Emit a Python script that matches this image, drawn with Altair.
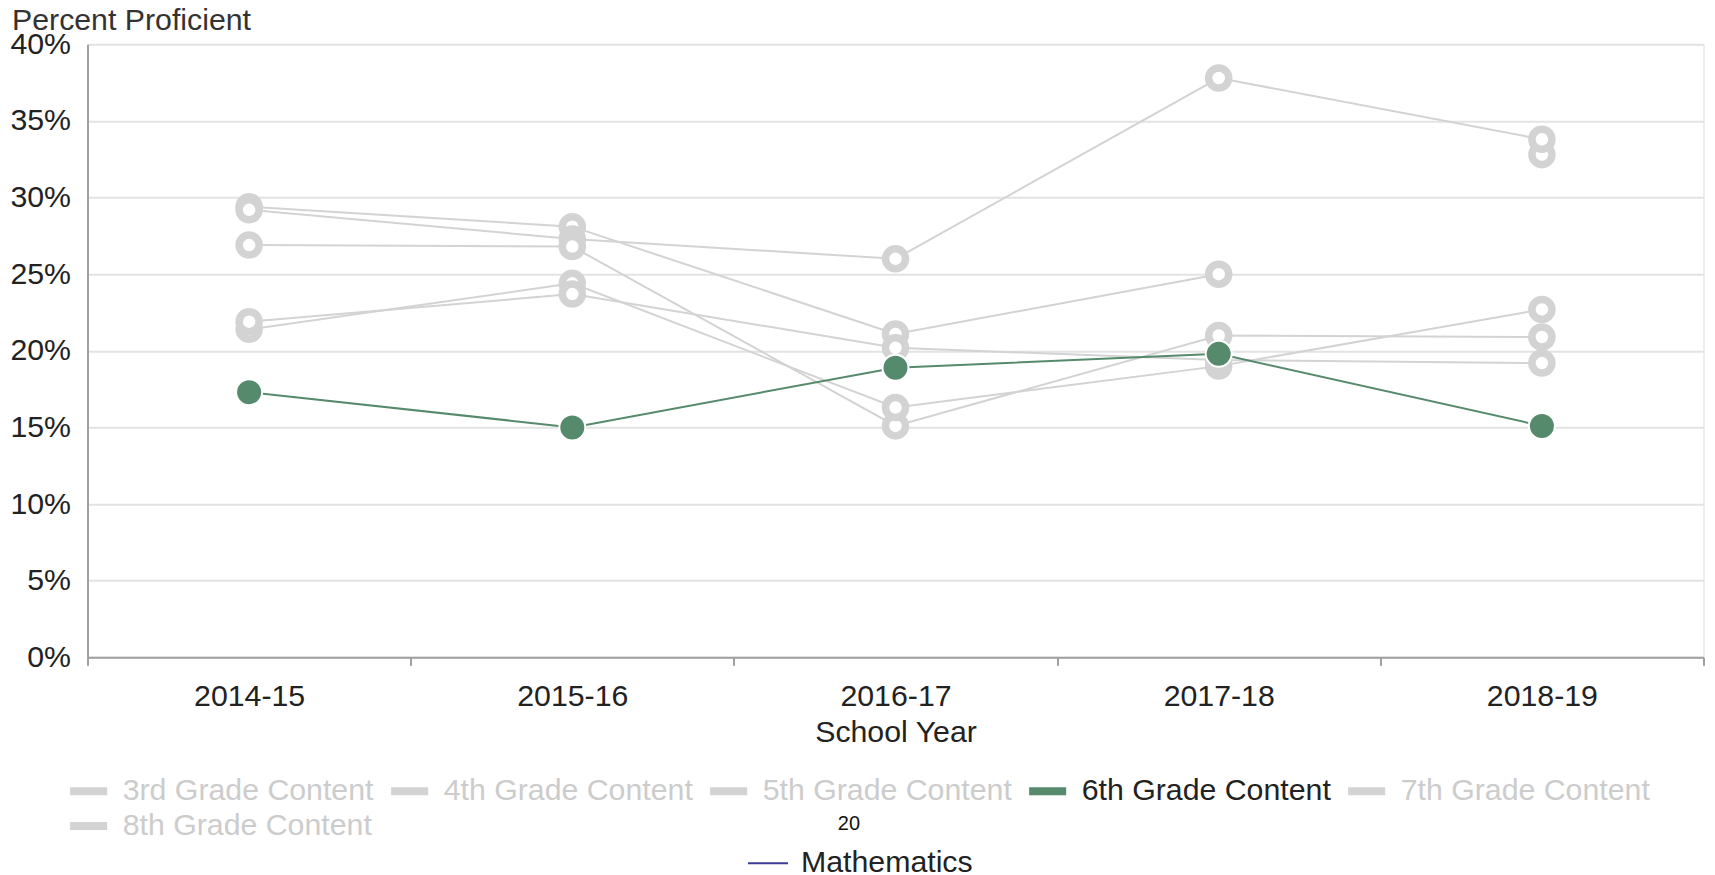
import altair as alt
import pandas as pd

# ---------------- data ----------------
years = ["2014-15", "2015-16", "2016-17", "2017-18", "2018-19"]
grades = ["3rd Grade Content", "4th Grade Content", "5th Grade Content",
          "6th Grade Content", "7th Grade Content", "8th Grade Content"]
grade3 = [29.4, 28.1, 21.1, 25.0, 32.8]
grade4 = [29.2, 27.3, 26.0, 37.8, 33.8]
grade5 = [26.9, 26.8, 15.1, 21.0, 20.9]
grade6 = [17.3, 15.0, 18.9, 19.8, 15.1]
grade7 = [21.4, 24.4, 16.3, 19.0, 22.7]
grade8 = [21.9, 23.7, 20.2, 19.4, 19.2]
series_values = [grade3, grade4, grade5, grade6, grade7, grade8]
highlight = "6th Grade Content"
# a new path starts at this year (segment not drawn in the original)
path_breaks = {"3rd Grade Content": "2018-19"}
y_ticks = [0, 5, 10, 15, 20, 25, 30, 35, 40]
subjects = ["Mathematics"]
subject_legend_title = "20"

GRAY = "#d3d3d3"
GREEN = "#568a6c"
NAVY = "#3b3b98"
FONT = "Liberation Sans"
FS = 30.3

rows = []
for g, vals in zip(grades, series_values):
    brk = path_breaks.get(g)
    seg = 0
    for yr, v in zip(years, vals):
        if brk is not None and yr == brk:
            seg += 1
        rows.append({"year": yr, "grade": g, "value": v, "seg": f"{g}-{seg}"})
df = pd.DataFrame(rows)

color_range = [GREEN if g == highlight else GRAY for g in grades]

x_enc = alt.X(
    "year:N", sort=years,
    scale=alt.Scale(type="band", paddingInner=0, paddingOuter=0),
    axis=alt.Axis(
        title="School Year", tickBand="extent", grid=False, labelAngle=0,
        labelBaseline="alphabetic", labelPadding=40, tickSize=8, tickWidth=2,
        tickColor="#a0a0a0", domainColor="#a0a0a0", domainWidth=2,
        labelFontSize=FS, labelColor="#222222", labelFont=FONT,
        titleFontSize=FS, titleFont=FONT, titleFontWeight="normal",
        titleColor="#222222", titleBaseline="alphabetic", titleY=84,
    ),
)
y_enc = alt.Y(
    "value:Q",
    scale=alt.Scale(domain=[0, 40], nice=False, zero=True),
    axis=alt.Axis(
        values=y_ticks, labelExpr="datum.value + '%'", ticks=False,
        labelPadding=17, labelFontSize=FS, labelColor="#222222", labelFont=FONT,
        gridColor="#e3e3e3", gridWidth=2, domainColor="#a0a0a0", domainWidth=2,
        title="Percent Proficient", titleAngle=0, titleAlign="left",
        titleBaseline="alphabetic", titleX=-76, titleY=-15,
        titleFontSize=FS, titleFont=FONT, titleFontWeight="normal",
        titleColor="#333333",
    ),
)
color_enc = alt.Color(
    "grade:N", sort=grades,
    scale=alt.Scale(domain=grades, range=color_range),
    legend=alt.Legend(
        title=None, orient="none", legendX=-17.35, legendY=728.3,
        direction="horizontal", columns=5, symbolType="M-1.3,0H1.3",
        symbolSize=812, symbolStrokeWidth=8, labelFontSize=FS, labelFont=FONT,
        labelColor={"expr": f"datum.label == '{highlight}' ? '#222222' : '#cccccc'"},
        labelOffset=15.5, columnPadding=0, rowPadding=0, padding=0, labelLimit=0,
    ),
)

base = alt.Chart(df)
is_hl = f"datum.grade == '{highlight}'"
not_hl = f"datum.grade != '{highlight}'"

gray_lines = base.transform_filter(not_hl).mark_line(strokeWidth=2).encode(
    x=x_enc, y=y_enc, color=color_enc, detail="seg:N")
gray_points = base.transform_filter(not_hl).mark_point(
    filled=False, fill="white", stroke=GRAY, strokeWidth=7.5, size=400, opacity=1
).encode(x=x_enc, y=y_enc)
green_line = base.transform_filter(is_hl).mark_line(strokeWidth=2).encode(
    x=x_enc, y=y_enc, color=color_enc, detail="seg:N")
green_points = base.transform_filter(is_hl).mark_point(
    filled=True, fill=GREEN, stroke="white", strokeWidth=2, size=676, opacity=1
).encode(x=x_enc, y=y_enc)

subj_df = pd.DataFrame({"subject": subjects})
subject_layer = alt.Chart(subj_df).mark_line(strokeWidth=2).encode(
    x=alt.value(0), y=alt.value(0),
    stroke=alt.Stroke(
        "subject:N",
        scale=alt.Scale(domain=subjects, range=[NAVY]),
        legend=alt.Legend(
            title=subject_legend_title, orient="none", legendX=659.5, legendY=770,
            titleFontSize=20, titleFontWeight="normal", titleFont=FONT,
            titleColor="#111111", titleAnchor="middle", titleAlign="right",
            titlePadding=8,
            symbolType="stroke", symbolSize=1600, symbolStrokeWidth=2,
            labelFontSize=FS, labelFont=FONT, labelColor="#222222",
            labelOffset=12, padding=0, labelLimit=0,
        ),
    ),
)

chart = alt.layer(gray_lines, gray_points, green_line, green_points, subject_layer).properties(
    width=1616, height=613,
    padding={"left": 79.5, "top": 36.3, "right": 3, "bottom": 217},
    autosize=alt.AutoSizeParams(type="none"),
).configure_view(stroke=None).configure(font=FONT)

chart.save("out.html", embed_options={"renderer": "svg", "actions": False})
